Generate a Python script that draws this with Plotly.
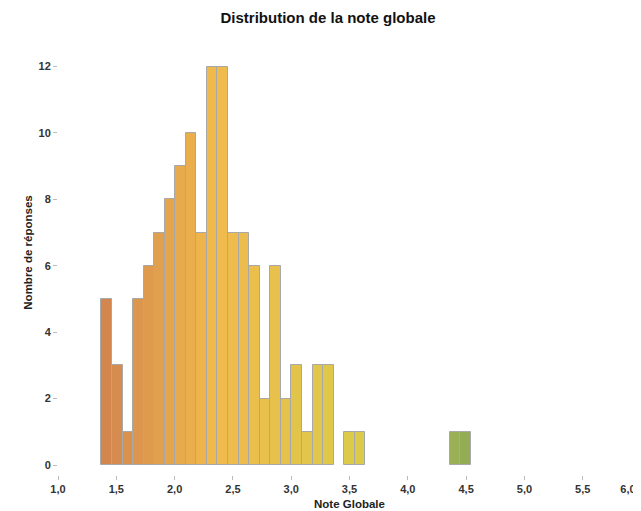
import plotly.graph_objects as go

# Bin centers (Note Globale) and counts (Nombre de réponses)
bin_centers = [1.417, 1.508, 1.599, 1.689, 1.780, 1.870, 1.961, 2.051, 2.142,
               2.232, 2.323, 2.413, 2.504, 2.594, 2.685, 2.776, 2.866, 2.957,
               3.047, 3.138, 3.228, 3.319, 3.500, 3.591, 4.406, 4.497]
counts = [5, 3, 1, 5, 6, 7, 8, 9, 10, 7, 12, 12, 7, 7, 6, 2, 6, 2, 3, 1, 3, 3,
          1, 1, 1, 1]
bin_width = 0.0906

x_tick_vals = [1.0, 1.5, 2.0, 2.5, 3.0, 3.5, 4.0, 4.5, 5.0, 5.5]
x_tick_text = ["1,0", "1,5", "2,0", "2,5", "3,0", "3,5", "4,0", "4,5", "5,0", "5,5"]
x_edge_tick_vals = [6.0]
x_edge_tick_text = ["6,0"]
y_tick_vals = [0, 2, 4, 6, 8, 10, 12]

colorscale = [
    [0.0, "#D3874E"],
    [0.30, "#F0BA4C"],
    [0.63, "#DEC84A"],
    [0.71, "#DCCB48"],
    [1.0, "#93AD55"],
]

fig = go.Figure(
    go.Bar(
        x=bin_centers,
        y=counts,
        width=bin_width,
        marker=dict(
            color=bin_centers,
            colorscale=colorscale,
            cmin=min(bin_centers),
            cmax=max(bin_centers),
            line=dict(color="#A8A8A8", width=1),
        ),
        showlegend=False,
    )
)
# empty helper trace so the overlaying axis (edge label) is drawn
fig.add_trace(go.Scatter(x=[], y=[], xaxis="x2", yaxis="y", showlegend=False, hoverinfo="skip"))

tick_font = dict(family="Liberation Sans, Arial, sans-serif", size=11, color="#333333")

# page body has an 8px default margin: the figure is sized/margined to compensate
fig.update_layout(
    width=633,
    height=503,
    margin=dict(l=50, r=0, t=22, b=36),
    plot_bgcolor="white",
    paper_bgcolor="white",
    font=dict(family="Liberation Sans, Arial, sans-serif", color="#222222"),
    title=dict(
        text="<b>Distribution de la note globale</b>",
        x=320 / 633, xanchor="center", y=1 - 10 / 503, yanchor="middle",
        xref="container",
        font=dict(size=15, color="#111111"),
    ),
    bargap=0,
    xaxis2=dict(
        overlaying="x", anchor="y", side="bottom", range=[1.0, 6.0],
        tickvals=x_edge_tick_vals,
        ticktext=["<b>%s</b>" % t for t in x_edge_tick_text],
        tickfont=tick_font, ticks="outside", ticklen=4, tickcolor="rgba(0,0,0,0)",
        ticklabelshift=-13, ticklabeloverflow="allow",
        showgrid=False, zeroline=False, showline=False, automargin=False,
    ),
)

fig.layout.xaxis.update(
    range=[1.0, 6.0],
    tickvals=x_tick_vals,
    ticktext=["<b>%s</b>" % t for t in x_tick_text],
    tickfont=tick_font,
    ticks="outside", ticklen=4, tickcolor="#BBBBBB", tickwidth=1,
    showgrid=False, zeroline=False, showline=False,
    automargin=False,
    title=dict(text="<b>Note Globale</b>", font=dict(size=11.5, color="#222222"), standoff=5),
)
fig.update_yaxes(
    range=[-0.3, 13.1],
    tickvals=y_tick_vals,
    ticktext=["<b>%d</b>" % v for v in y_tick_vals],
    tickfont=tick_font,
    ticks="outside", ticklen=4, tickcolor="#BBBBBB", tickwidth=1,
    showgrid=False, zeroline=False, showline=False,
    automargin=False,
    title=dict(text="<b>Nombre de réponses</b>", font=dict(size=11.5, color="#222222"), standoff=3),
)

fig.write_html("out.html")
